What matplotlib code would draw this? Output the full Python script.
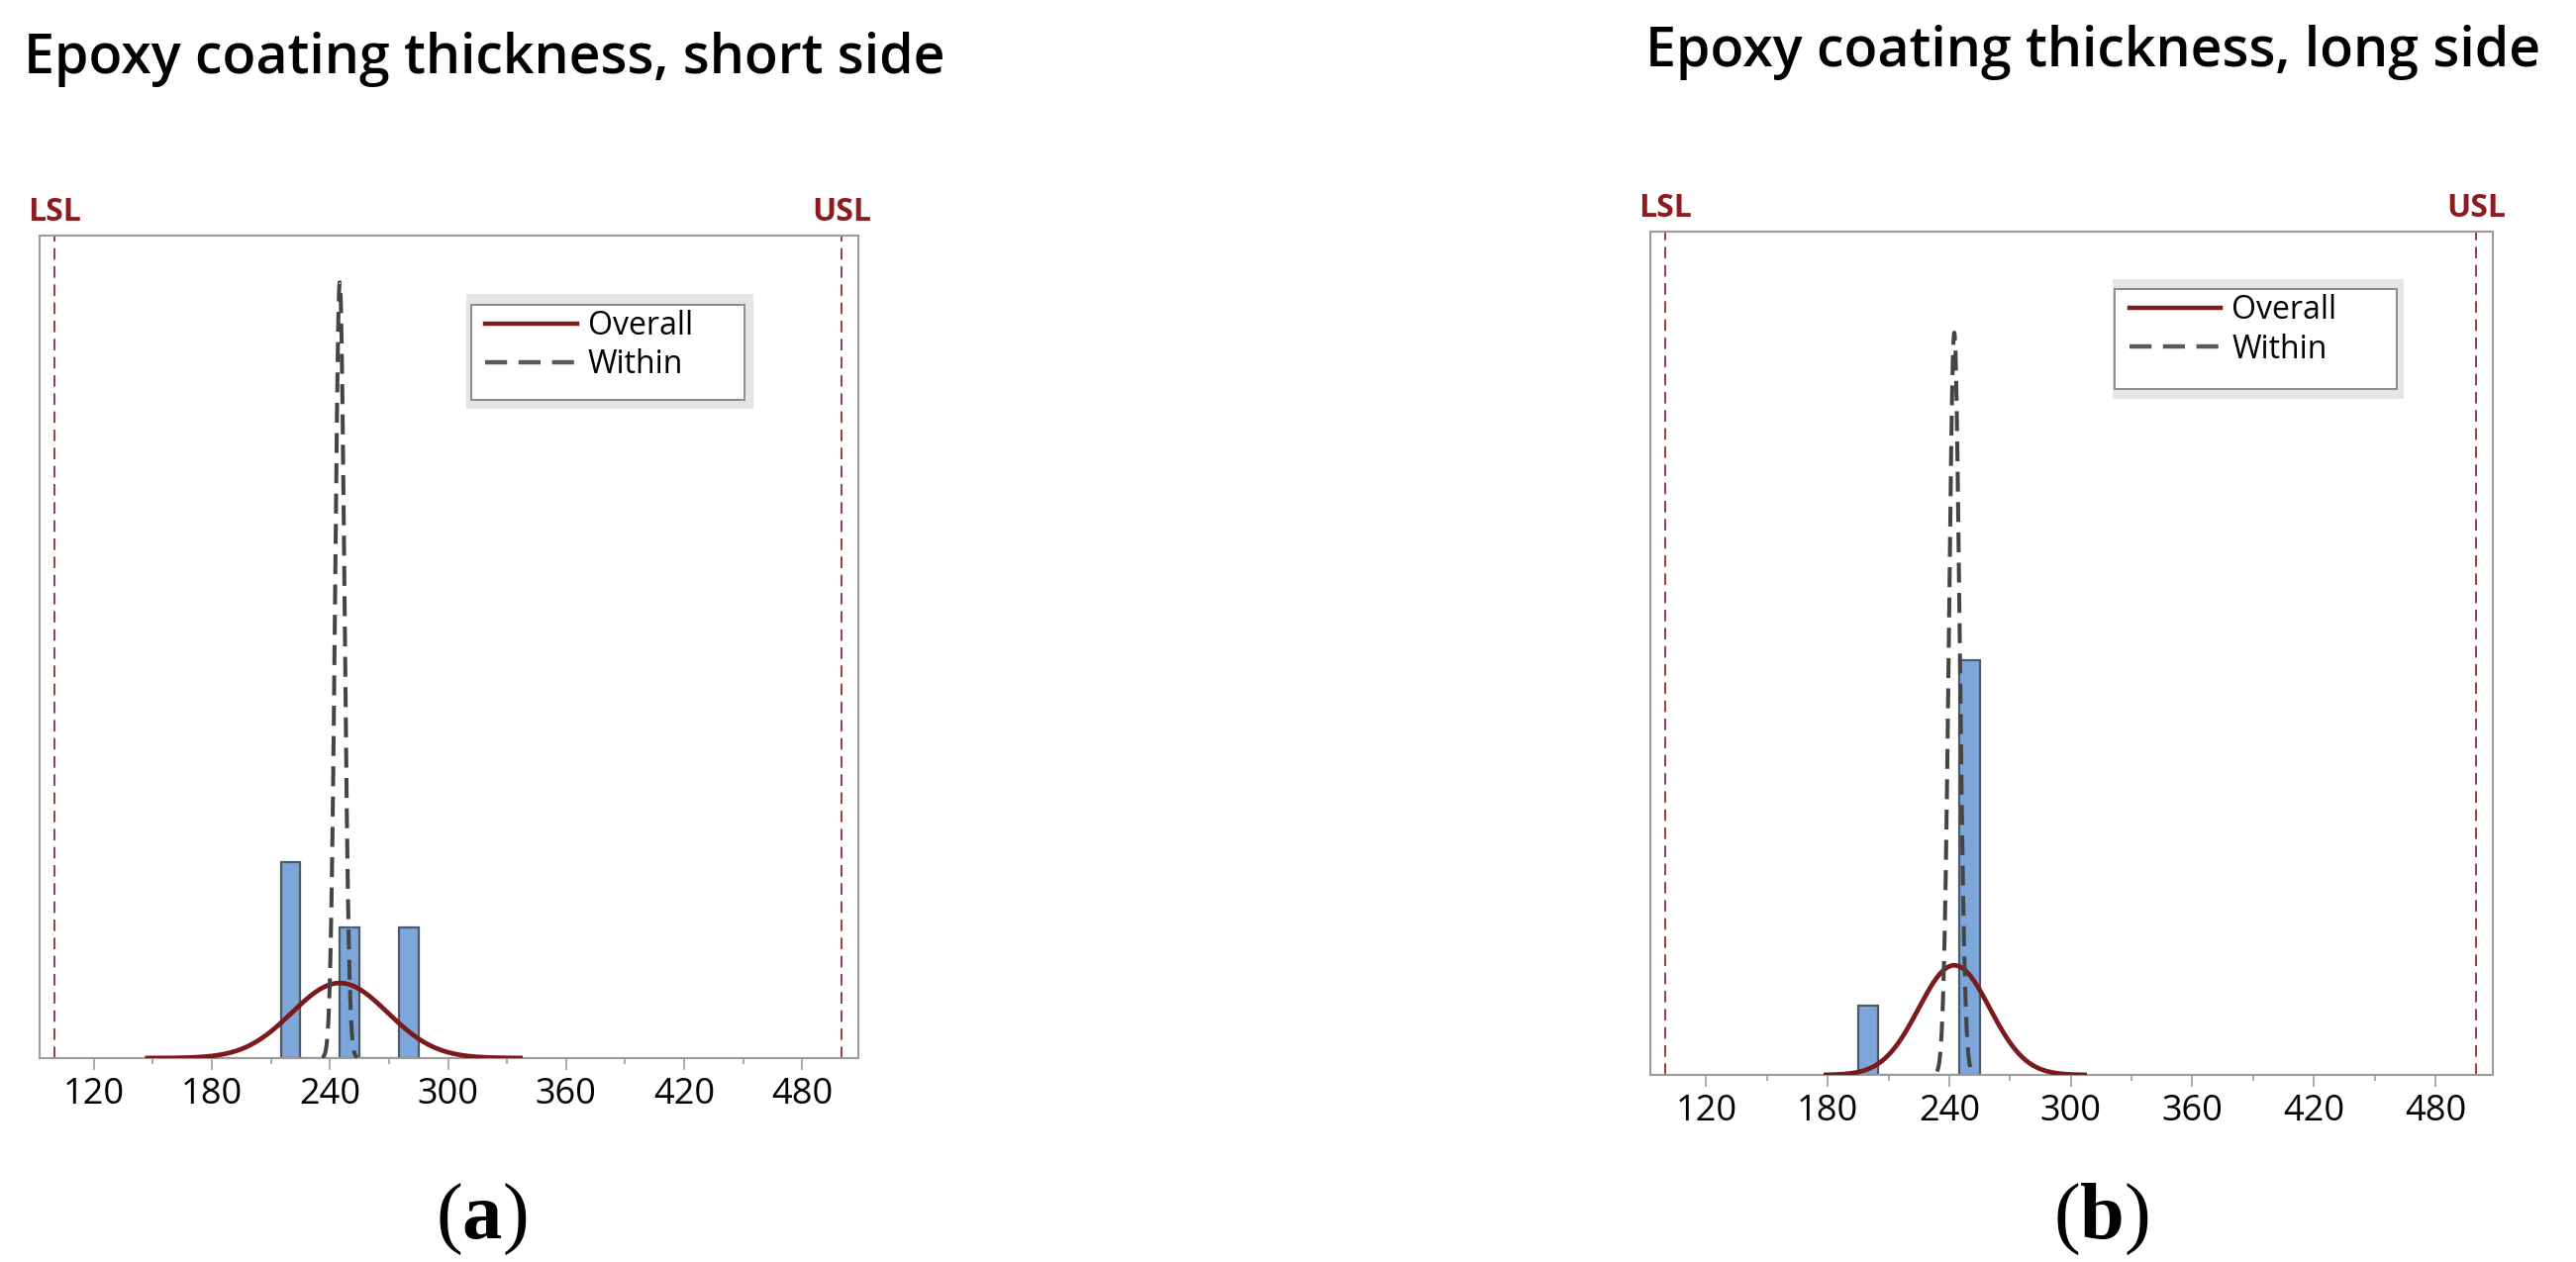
import numpy as np
import matplotlib
matplotlib.use('Agg')
import matplotlib.pyplot as plt
from matplotlib.patches import Rectangle
from matplotlib.lines import Line2D

plt.rcParams['font.family'] = ['Open Sans', 'DejaVu Sans']
plt.rcParams['mathtext.fontset'] = 'custom'
plt.rcParams['mathtext.rm'] = 'Liberation Serif'
plt.rcParams['mathtext.bf'] = 'Liberation Serif:bold'

# histogram data (bin left edges, counts)
bin_width = 10
short_bins = [215, 225, 235, 245, 255, 265, 275]
short_counts = [3, 0, 0, 2, 0, 0, 2]
long_bins = [195, 205, 215, 225, 235, 245]
long_counts = [1, 0, 0, 0, 0, 6]

# fitted normal curves: mean, overall sd, within sd, drawn x-range
short_mean = 245.0
short_sd_overall = 24.3
short_sd_within = 2.35
short_overall_range = (146, 338)
short_within_range = (236, 254)

long_mean = 242.5
long_sd_overall = 17.6
long_sd_within = 2.6
long_overall_range = (178, 308)
long_within_range = (234, 251)

LSL = 100
USL = 500
major_ticks = [120, 180, 240, 300, 360, 420, 480]
minor_ticks = [150, 210, 270, 330, 390, 450]

RED = '#7a1a1c'
SPEC = '#8e1b1f'
GRAY = '#9c9c9c'


def normal_curve(mean, sd, xr, n):
    x = np.linspace(xr[0], xr[1], 400)
    y = n * bin_width * np.exp(-0.5 * ((x - mean) / sd) ** 2) / (sd * np.sqrt(2 * np.pi))
    return x, y


def panel(ax, bins, counts, mean, sd_o, sd_w, rng_o, rng_w, ytop, outer, inner, leg_anchor):
    n = sum(counts)
    ax.bar(bins, counts, width=bin_width, align='edge', color='#7da6da',
           edgecolor='#4f5a66', linewidth=1.6, zorder=2)
    xo, yo = normal_curve(mean, sd_o, rng_o, n)
    xw, yw = normal_curve(mean, sd_w, rng_w, n)
    ax.plot(xo, yo, color=RED, lw=3.4, zorder=3, solid_capstyle='butt')
    ax.plot(xw, yw, color='#444444', lw=2.9, ls=(0, (5.0, 2.6)), zorder=3)
    for v, lab in [(LSL, 'LSL'), (USL, 'USL')]:
        ax.axvline(v, color=SPEC, lw=1.2, ls=(0, (7, 4)), zorder=1)
        ax.text(v, 1.018, lab, transform=ax.get_xaxis_transform(), ha='center',
                va='baseline', color=SPEC, fontsize=23, fontweight='bold')
    ax.set_xlim(92.5, 508.5)
    ax.set_ylim(0, ytop)
    ax.set_yticks([])
    ax.set_xticks(major_ticks)
    ax.set_xticks(minor_ticks, minor=True)
    ax.tick_params(axis='x', which='major', length=8.5, width=1.2, color=GRAY,
                   labelsize=26, pad=5)
    ax.tick_params(axis='x', which='minor', length=4.5, width=1.2, color=GRAY)
    for s in ax.spines.values():
        s.set_color(GRAY)
        s.set_linewidth(1.5)
    # legend box, Minitab style
    ax.add_patch(Rectangle((outer[0], outer[1]), outer[2], outer[3], transform=ax.transAxes,
                           facecolor='#e5e5e5', edgecolor='none', zorder=4))
    ax.add_patch(Rectangle((inner[0], inner[1]), inner[2], inner[3], transform=ax.transAxes,
                           facecolor='white', edgecolor='#8a8a8a', lw=1.4, zorder=5))
    handles = [Line2D([], [], color=RED, lw=3.2),
               Line2D([], [], color='#5a5a5a', lw=3.2, ls=(0, (5.0, 2.6)))]
    leg = ax.legend(handles, ['Overall', 'Within'], loc='upper left', bbox_to_anchor=leg_anchor,
                    frameon=False, fontsize=23, handlelength=2.9, handletextpad=0.35,
                    labelspacing=0.2, borderpad=0, borderaxespad=0)
    leg.set_zorder(6)


fig = plt.figure(figsize=(26.02, 12.75), dpi=100)
ax1 = fig.add_axes([0.0154, 0.1616, 0.3178, 0.6518])
ax2 = fig.add_axes([0.6407, 0.1482, 0.3271, 0.6682])

panel(ax1, short_bins, short_counts, short_mean, short_sd_overall, short_sd_within,
      short_overall_range, short_within_range, 12.6,
      (0.521, 0.789, 0.351, 0.140), (0.527, 0.800, 0.334, 0.116), (0.544, 0.910))
panel(ax2, long_bins, long_counts, long_mean, long_sd_overall, long_sd_within,
      long_overall_range, long_within_range, 12.2,
      (0.548, 0.802, 0.346, 0.142), (0.551, 0.813, 0.335, 0.119), (0.568, 0.926))

fig.text(24 / 2602, 1 - 74 / 1275, 'Epoxy coating thickness, short side', ha='left',
         va='baseline', fontsize=40, fontweight='semibold')
fig.text(1662 / 2602, 1 - 67 / 1275, 'Epoxy coating thickness, long side', ha='left',
         va='baseline', fontsize=40, fontweight='semibold')
fig.text(486 / 2602, 1 - 1230 / 1275, r'$(\mathbf{a})$', ha='center', va='center', fontsize=58)
fig.text(2122 / 2602, 1 - 1230 / 1275, r'$(\mathbf{b})$', ha='center', va='center', fontsize=58)

fig.savefig('out.png', dpi=100, facecolor='white')
